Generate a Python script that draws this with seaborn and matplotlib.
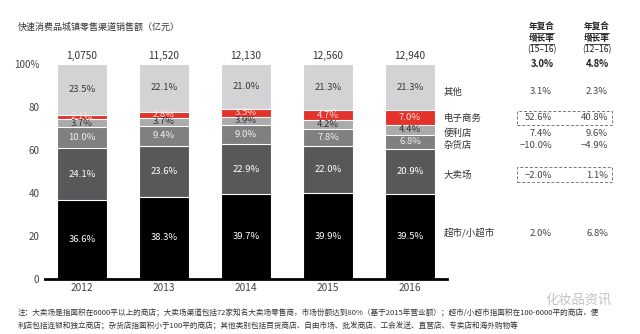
import matplotlib
matplotlib.use("Agg")
import matplotlib.pyplot as plt
from matplotlib.patches import Rectangle
from matplotlib.lines import Line2D
import seaborn as sns
import pandas as pd
import numpy as np

sns.set_theme(style="white")
plt.rcParams['font.family'] = ['Noto Sans CJK SC', 'DejaVu Sans']

years = ["2012", "2013", "2014", "2015", "2016"]
totals = ["1,0750", "11,520", "12,130", "12,560", "12,940"]
channels = ["超市/小超市", "大卖场", "杂货店", "便利店", "电子商务", "其他"]
supermarket = [36.6, 38.3, 39.7, 39.9, 39.5]
hypermarket = [24.1, 23.6, 22.9, 22.0, 20.9]
grocery = [10.0, 9.4, 9.0, 7.8, 6.8]
convenience = [3.7, 3.7, 3.9, 4.2, 4.4]
ecommerce = [2.1, 2.8, 3.5, 4.7, 7.0]
others = [23.5, 22.1, 21.0, 21.3, 21.3]
cagr_15_16 = ["2.0%", "−2.0%", "−10.0%", "7.4%", "52.6%", "3.1%"]
cagr_12_16 = ["6.8%", "1.1%", "−4.9%", "9.6%", "40.8%", "2.3%"]
cagr_total = ["3.0%", "4.8%"]
yticks = [0, 20, 40, 60, 80, 100]
ytick_labels = ["0", "20", "40", "60", "80", "100%"]

series = [supermarket, hypermarket, grocery, convenience, ecommerce, others]
colors = ["#000000", "#58585a", "#808080", "#ababab", "#e4332a", "#d3d3d5"]
label_colors = ["#ffffff", "#ffffff", "#f0f0f0", "#333333", "#fbe0dc", "#3a3a3a"]

W, H = 640, 334
fig = plt.figure(figsize=(W / 100, H / 100), dpi=100)

def fx(x):
    return x / W

def fy(y):
    return 1 - y / H

ax = fig.add_axes([fx(45), fy(279), (447 - 45) / W, (279 - 64) / H])

arr = np.array(series)
cum = np.cumsum(arr, axis=0)
# draw cumulative bars from top layer down (overpainting)
for i in range(len(series) - 1, -1, -1):
    df = pd.DataFrame({"year": years, "value": cum[i]})
    sns.barplot(data=df, x="year", y="value", color=colors[i], width=0.61,
                edgecolor="white", linewidth=0.8, saturation=1, ax=ax)

# segment labels
for i in range(len(series)):
    for j in range(len(years)):
        bottom = cum[i][j] - arr[i][j]
        mid = bottom + arr[i][j] / 2
        ax.text(j, mid, f"{arr[i][j]:.1f}%", ha="center", va="center",
                fontsize=6.8, color=label_colors[i])

# totals
for j, t in enumerate(totals):
    ax.text(j, 101.5, t, ha="center", va="bottom", fontsize=7.3, color="#333333")

ax.set_xlim(-0.45, 4.45)
ax.set_ylim(0, 100)
ax.set_yticks(yticks)
ax.set_yticklabels(ytick_labels, fontsize=7, color="#444444")
ax.set_xlabel("")
ax.set_ylabel("")
ax.tick_params(axis="x", labelsize=7.3, colors="#444444", length=0, pad=3)
ax.tick_params(axis="y", length=0, pad=4)
for s in ["top", "right", "left"]:
    ax.spines[s].set_visible(False)
ax.spines["bottom"].set_color("#000000")
ax.spines["bottom"].set_linewidth(2)

# title
fig.text(fx(18), fy(27), "快速消费品城镇零售渠道销售额（亿元）", fontsize=6.5,
         color="#333333", ha="left", va="center")

# right headers
for cx, period in [(542, "(15–16)"), (597, "(12–16)")]:
    fig.text(fx(cx), fy(26.5), "年复合", fontsize=6.2, fontweight="bold",
             color="#222222", ha="center", va="center")
    fig.text(fx(cx), fy(38), "增长率", fontsize=6.2, fontweight="bold",
             color="#222222", ha="center", va="center")
    fig.text(fx(cx), fy(50), period, fontsize=6.2, color="#222222",
             ha="center", va="center")
    for uy in [32.5, 44]:
        fig.add_artist(Line2D([fx(cx - 12), fx(cx + 12)], [fy(uy), fy(uy)],
                              color="#222222", linewidth=0.6))
fig.text(fx(542), fy(64), cagr_total[0], fontsize=6.8, fontweight="bold",
         color="#222222", ha="center", va="center")
fig.text(fx(597), fy(64), cagr_total[1], fontsize=6.8, fontweight="bold",
         color="#222222", ha="center", va="center")

# right rows
row_y = [233, 175, 145, 133, 118, 92]
for name, ry, a, b in zip(channels, row_y, cagr_15_16, cagr_12_16):
    fig.text(fx(444), fy(ry), name, fontsize=6.8, color="#333333",
             ha="left", va="center")
    fig.text(fx(552), fy(ry), a, fontsize=6.8, color="#444444",
             ha="right", va="center")
    fig.text(fx(608), fy(ry), b, fontsize=6.8, color="#444444",
             ha="right", va="center")

# dashed boxes
for y0, y1 in [(111, 125), (167, 182)]:
    fig.add_artist(Rectangle((fx(517), fy(y1)), (612 - 517) / W, (y1 - y0) / H,
                             fill=False, edgecolor="#777777", linewidth=0.7,
                             linestyle=(0, (3, 2)), transform=fig.transFigure))

# footnote
fig.text(fx(18), fy(313),
         "注：大卖场是指面积在6000平以上的商店；大卖场渠道包括72家知名大卖场零售商，市场份额达到80%（基于2015年营业额）；超市/小超市指面积在100-6000平的商店，便",
         fontsize=5.5, color="#333333", ha="left", va="center")
fig.text(fx(18), fy(326),
         "利店包括连锁和独立商店；杂货店指面积小于100平的商店；其他类别包括百货商店、自由市场、批发商店、工会发送、直营店、专卖店和海外购物等",
         fontsize=5.5, color="#333333", ha="left", va="center")

# watermark
fig.text(fx(545), fy(300), "化妆品资讯", fontsize=9.5, color="#bdbdbd",
         ha="left", va="center", alpha=0.9)

fig.savefig("out.png", dpi=100)
